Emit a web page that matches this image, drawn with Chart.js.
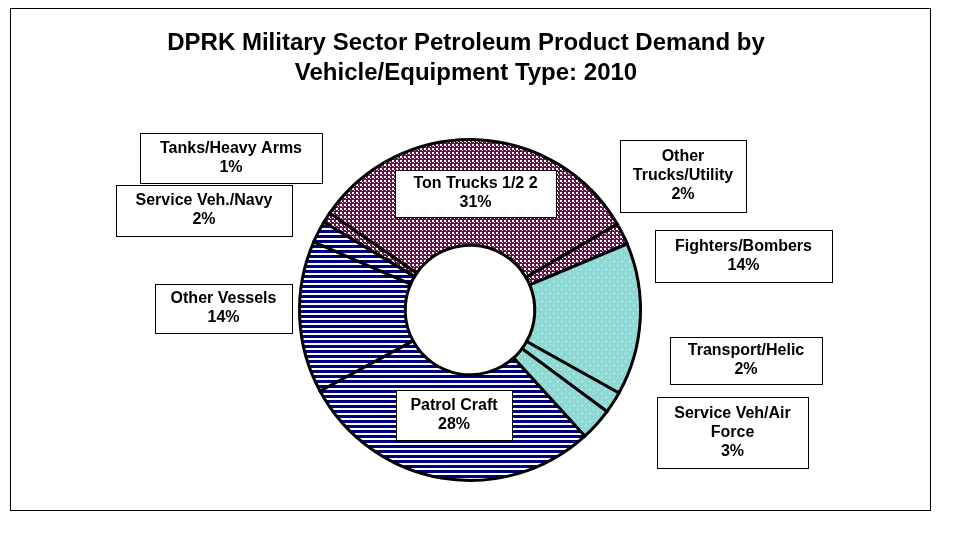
<!DOCTYPE html>
<html lang="en">
<head>
<meta charset="UTF-8">
<title>DPRK Military Sector Petroleum Product Demand</title>
<script src="https://cdn.jsdelivr.net/npm/chart.js"></script>
<style>
  body { margin: 0; background: #fff; }
  #wrap { width: 975px; height: 536px; }
</style>
</head>
<body>
<div id="wrap"><canvas id="c"></canvas></div>
<script>
// data, clockwise starting from the upper-left slice
const categories = ['Tanks/Heavy Arms', 'Ton Trucks 1/2 2', 'Other Trucks/Utility', 'Fighters/Bombers',
  'Transport/Helic', 'Service Veh/Air Force', 'Patrol Craft', 'Other Vessels', 'Service Veh./Navy'];
const shares = [1, 31, 2, 14, 2, 3, 28, 14, 2];
const labelLines = [
  ['Tanks/Heavy Arms'], ['Ton Trucks 1/2 2'], ['Other', 'Trucks/Utility'], ['Fighters/Bombers'],
  ['Transport/Helic'], ['Service Veh/Air', 'Force'], ['Patrol Craft'], ['Other Vessels'], ['Service Veh./Navy']
];
const groups = ['land', 'land', 'land', 'air', 'air', 'air', 'sea', 'sea', 'sea'];
// label box layout [left, top, width, height]
const boxes = [
  [140, 133, 182, 50], [395, 170, 161, 47], [620, 140, 126, 72], [655, 230, 177, 52],
  [670, 337, 152, 47], [657, 397, 151, 71], [396, 390, 116, 50], [155, 284, 137, 49], [116, 185, 176, 51]
];

function makePattern(kind) {
  const p = document.createElement('canvas');
  const g = p.getContext('2d');
  if (kind === 'land') {
    p.width = 4; p.height = 4;
    g.fillStyle = '#6e0f4c'; g.fillRect(0, 0, 4, 4);
    g.fillStyle = '#fff';
    g.fillRect(0, 0, 2, 2); g.fillRect(2, 2, 1, 1);
  } else if (kind === 'air') {
    p.width = 8; p.height = 8;
    g.fillStyle = '#8fd8d3'; g.fillRect(0, 0, 8, 8);
    g.fillStyle = '#fff';
    g.fillRect(1, 1, 1, 1); g.fillRect(5, 5, 1, 1);
  } else {
    p.width = 5; p.height = 5;
    g.fillStyle = '#fff'; g.fillRect(0, 0, 5, 5);
    g.fillStyle = '#000080'; g.fillRect(0, 0, 5, 3);
  }
  return g.createPattern(p, 'repeat');
}

const fonts = 'bold 16px "Liberation Sans", Arial, sans-serif';

const decor = {
  id: 'decor',
  afterDraw(chart) {
    const ctx = chart.ctx;
    ctx.save();
    ctx.strokeStyle = '#000'; ctx.lineWidth = 1;
    ctx.strokeRect(10.5, 8.5, 920, 502);
    ctx.fillStyle = '#000';
    ctx.textAlign = 'center'; ctx.textBaseline = 'middle';
    ctx.font = 'bold 24px "Liberation Sans", Arial, sans-serif';
    ctx.fillText('DPRK Military Sector Petroleum Product Demand by', 466, 43);
    ctx.fillText('Vehicle/Equipment Type: 2010', 466, 73);
    ctx.font = fonts;
    boxes.forEach((b, i) => {
      const lines = labelLines[i].concat([shares[i] + '%']);
      ctx.fillStyle = '#fff';
      ctx.fillRect(b[0], b[1], b[2], b[3]);
      ctx.strokeRect(b[0] + 0.5, b[1] + 0.5, b[2], b[3]);
      ctx.fillStyle = '#000';
      const cy = b[1] + b[3] / 2, lh = 19;
      lines.forEach((t, k) => {
        ctx.fillText(t, b[0] + b[2] / 2, cy + (k - (lines.length - 1) / 2) * lh);
      });
    });
    ctx.restore();
  }
};

new Chart(document.getElementById('c'), {
  type: 'doughnut',
  data: {
    labels: categories,
    datasets: [{
      data: shares,
      backgroundColor: groups.map(makePattern),
      borderColor: '#000',
      borderWidth: 3,
      borderJoinStyle: 'miter'
    }]
  },
  options: {
    responsive: true,
    maintainAspectRatio: false,
    animation: false,
    rotation: -59,
    cutout: '38%',
    layout: { padding: { top: 138, bottom: 54, left: 298, right: 333 } },
    plugins: { legend: { display: false }, tooltip: { enabled: false } }
  },
  plugins: [decor]
});
</script>
</body>
</html>
